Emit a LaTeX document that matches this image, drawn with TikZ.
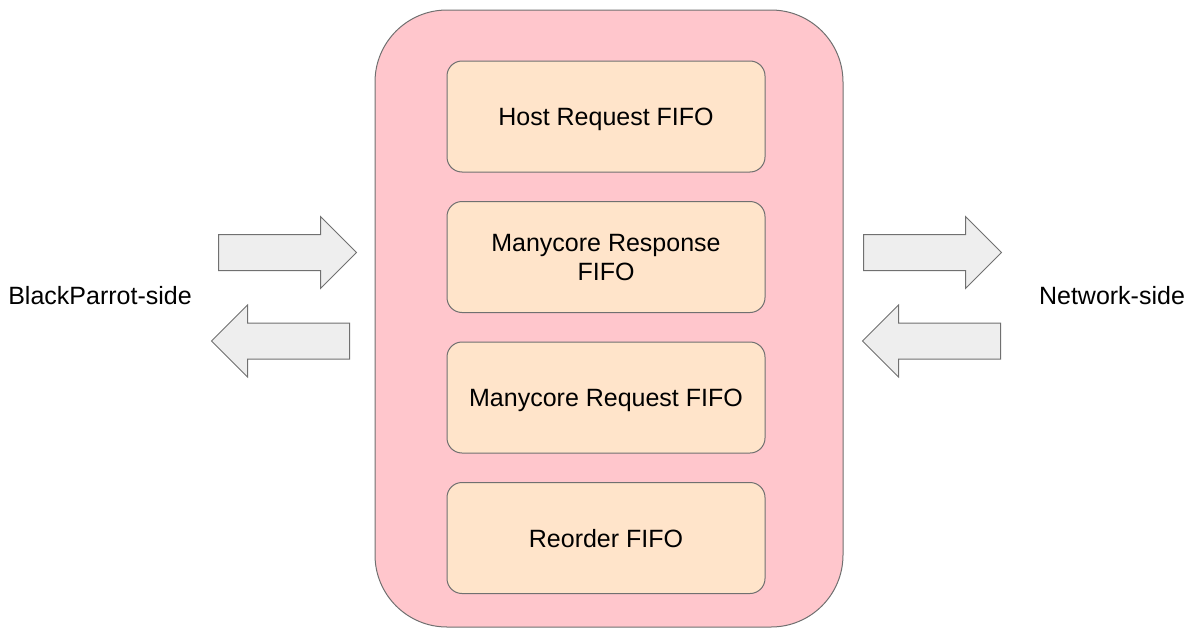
\documentclass[tikz,border=0pt]{standalone}
\usepackage{fontspec}
\setmainfont{Liberation Sans}
\usetikzlibrary{positioning}
\usetikzlibrary{shapes.arrows}
\definecolor{shellpink}{HTML}{FFC6CC}
\definecolor{fifobg}{HTML}{FFE4CA}
\definecolor{pipegray}{HTML}{EEEEEE}
\definecolor{edgegray}{HTML}{707070}

\begin{document}
\begin{tikzpicture}[x=1pt, y=-1pt,
  shell/.style={draw=edgegray, fill=shellpink, line width=1pt,
    rounded corners=72pt, minimum width=468pt, minimum height=617pt},
  fifo/.style={draw=edgegray, fill=fifobg, line width=1pt, rounded corners=15pt,
    minimum width=318pt, minimum height=111pt, align=center, text depth=0pt,
    font=\fontsize{25}{29}\selectfont},
  pipe/.style={single arrow, draw=edgegray, fill=pipegray, line width=1pt,
    minimum height=138pt, inner xsep=0pt, inner ysep=17.5pt,
    single arrow head extend=18pt, anchor=tail},
  side/.style={font=\fontsize{25}{29}\selectfont}]

  \useasboundingbox (0,0) rectangle (1192,629);

  % Define nodes
  \node[shell] (bridge) at (609,318.5) {};
  \node[fifo] (hostreq) at (606,116.5) {Host Request FIFO};
  \node[fifo, below=28.5pt of hostreq] (mcresp) {Manycore Response\\FIFO};
  \node[fifo, below=28.5pt of mcresp]  (mcreq)  {Manycore Request FIFO};
  \node[fifo, below=28.5pt of mcreq]   (reorder) {Reorder FIFO};

  % Traffic in and out on both sides
  \node[pipe] (bpin)   at (218,252.5) {};
  \node[pipe, shape border rotate=180] (bpout)  at (350,341) {};
  \node[pipe] (netout) at (863,252.5) {};
  \node[pipe, shape border rotate=180] (netin)  at (1001,341) {};

  % Side labels
  \node[side] (bpside)  at (100,296) {BlackParrot-side};
  \node[side] (netside) at (1112,296) {Network-side};

\end{tikzpicture}
\end{document}
